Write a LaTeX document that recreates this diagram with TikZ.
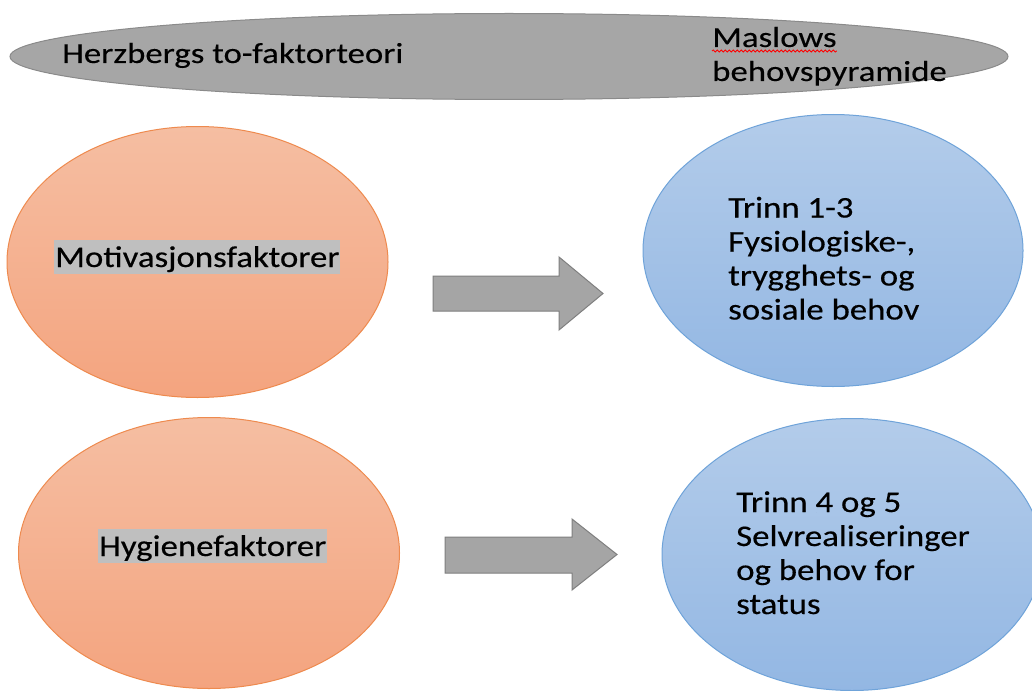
\documentclass[tikz,border=0pt]{standalone}
\usepackage{fontspec}
\setmainfont{Carlito}
\newfontfamily\widefont[FakeStretch=1.16,FakeBold=0.4]{Carlito}
\newfontfamily\topfont[FakeStretch=1.2,FakeBold=0.25]{Carlito}
\usetikzlibrary{shapes.geometric,decorations.pathmorphing}
\definecolor{orTop}{HTML}{F5BEA2}
\definecolor{orBot}{HTML}{F4A47F}
\definecolor{orLine}{HTML}{EE8A4E}
\definecolor{blTop}{HTML}{B3CCEA}
\definecolor{blBot}{HTML}{93B7E3}
\definecolor{blLine}{HTML}{6FA3D9}
\definecolor{grFill}{HTML}{A6A6A6}
\definecolor{grLine}{HTML}{8A8A8A}
\definecolor{arFill}{HTML}{A5A5A5}
\definecolor{arLine}{HTML}{7F7F7F}
\definecolor{hlGray}{HTML}{BFBFBF}
\begin{document}
\begin{tikzpicture}[x=1pt,y=-1pt,
  orball/.style={ellipse,draw=orLine,line width=1pt,top color=orTop,bottom color=orBot,inner sep=0pt,minimum width=381pt,minimum height=271pt},
  blball/.style={ellipse,draw=blLine,line width=1pt,top color=blTop,bottom color=blBot,inner sep=0pt,minimum width=380pt,minimum height=272pt},
  topband/.style={ellipse,draw=grLine,line width=1pt,fill=grFill,inner sep=0pt,minimum width=998pt,minimum height=86pt},
  blockarrow/.style={draw=arLine,line width=1pt,fill=arFill},
  toptext/.style={font=\topfont\fontsize{29}{34}\selectfont,inner sep=0pt,text=black},
  hltext/.style={font=\widefont\fontsize{30}{34}\selectfont,fill=hlGray,inner xsep=1pt,inner ysep=0pt,text height=27pt,text depth=7pt,text=black},
  steptext/.style={font=\widefont\fontsize{30}{34}\selectfont,inner sep=0pt,align=left,text=black}
]
\useasboundingbox (0,0) rectangle (1032,690);
\fill[white] (0,0) rectangle (1032,690);

% top band
\node[topband] (band) at (509,56.5) {};
\node[toptext,anchor=base west] (herz) at (62,63) {Herzbergs to-faktorteori};
\node[toptext,anchor=base west] (mas1) at (712,47) {Maslows};
\node[toptext,anchor=base west] (mas2) at (712,81) {behovspyramide};
\draw[red,line width=0.8pt,decorate,decoration={snake,amplitude=1.1pt,segment length=4pt}]
  ([yshift=-4pt]mas1.base west) -- ([yshift=-4pt]mas1.base east);

% ellipses
\node[orball] (mot) at (197.5,262) {};
\node[orball] (hyg) at (209,553) {};
\node[blball] (t13) at (833,250.5) {};
\node[blball] (t45) at (852,554.5) {};

% labels
\node[hltext,anchor=base west] (motl) at (54,267) {Motivasjonsfaktorer};
\node[hltext,anchor=base west] (hygl) at (98,556) {Hygienefaktorer};
\node[steptext,anchor=base west] (t13l) at (728,319.5) {Trinn 1-3\\Fysiologiske-,\\trygghets- og\\sosiale behov};
\node[steptext,anchor=base west] (t45l) at (736,614) {Trinn 4 og 5\\Selvrealiseringer\\og behov for\\status};

% block arrows
\draw[blockarrow] (433,276) -- (559,276) -- (559,257) -- (603,293.5) -- (559,330) -- (559,311) -- (433,311) -- cycle;
\draw[blockarrow] (445,537) -- (572,537) -- (572,519) -- (617,554.5) -- (572,590) -- (572,573) -- (445,573) -- cycle;
\end{tikzpicture}
\end{document}
